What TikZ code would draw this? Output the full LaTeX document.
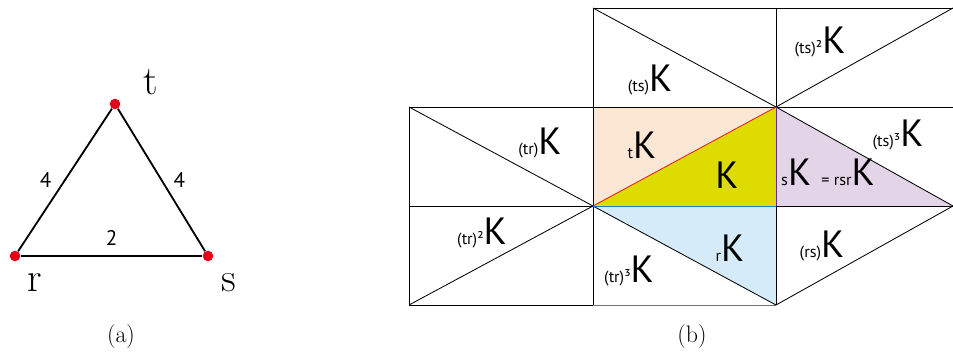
\documentclass[tikz,border=0pt]{standalone}
\usepackage{fontspec}
\newfontfamily\klabel{PT Sans}
\usetikzlibrary{positioning}
\definecolor{tcolor}{RGB}{252,230,212}
\definecolor{kcolor}{RGB}{221,219,0}
\definecolor{scolor}{RGB}{228,212,232}
\definecolor{rcolor}{RGB}{214,235,250}
\definecolor{dotcolor}{RGB}{226,0,26}
\definecolor{redline}{RGB}{230,30,30}
\definecolor{blueline}{RGB}{40,120,200}
\definecolor{purpleline}{RGB}{110,40,150}
\newcommand{\pre}[1]{{\fontsize{11.5}{11.5}\selectfont #1}}

\begin{document}
\begin{tikzpicture}[
    x=0.025cm, y=-0.025cm,
    vertex/.style={circle, fill=dotcolor, inner sep=0pt, minimum size=7.5pt},
    edge/.style={line width=1.3pt},
    weight/.style={font=\klabel\fontsize{15}{15}\selectfont, inner sep=1pt},
    gen/.style={font=\fontsize{29}{29}\selectfont, inner sep=0pt},
    caption/.style={font=\fontsize{17}{17}\selectfont},
    cell/.style={line width=0.6pt},
    coset/.style={font=\klabel\fontsize{27}{27}\selectfont, inner sep=0pt}
]
\useasboundingbox (0,0) rectangle (953,354);

% (a) Coxeter graph
\node[vertex] (t) at (115,104) {};
\node[vertex] (r) at (15,256) {};
\node[vertex] (s) at (208,256) {};
\draw[edge] (r) -- node[weight, midway, left=8pt] {4} (t);
\draw[edge] (t) -- node[weight, midway, right=7pt] {4} (s);
\draw[edge] (r) -- node[weight, midway, above=6pt] {2} (s);
\node[gen] (tlab) at (151,82) {t};
\node[gen] (rlab) at (35,283) {r};
\node[gen] (slab) at (229,283) {s};
\node[caption] (capa) at (121,337) {(a)};

% (b) tiling
\foreach \c/\x in {a/409,b/593,c/776,d/953}
  \foreach \r/\y in {0/8,1/107,2/206,3/305}
    \coordinate (\c\r) at (\x,\y);

\fill[tcolor] (b1) -- (c1) -- (b2) -- cycle;
\fill[kcolor] (b2) -- (c1) -- (c2) -- cycle;
\fill[scolor] (c1) -- (c2) -- (d2) -- cycle;
\fill[rcolor] (b2) -- (c2) -- (c3) -- cycle;

\draw[cell] (b0) -- (d0);
\draw[cell] (a1) -- (d1);
\draw[cell] (a2) -- (b2) (c2) -- (d2);
\draw[cell] (a3) -- (b3);
\draw[cell, black!55] (b3) -- (c3);
\draw[cell] (a1) -- (a3) (b0) -- (b3) (c0) -- (c1) (c2) -- (c3);
\draw[cell] (b0) -- (c1) -- (d0);
\draw[cell] (a1) -- (b2) -- (a3);
\draw[cell] (c1) -- (d2) -- (c3) -- (b2);
\draw[cell, redline] (b2) -- (c1);
\draw[cell, blueline] (b2) -- (c2);
\draw[cell, purpleline] (c1) -- (c2);

\node[coset] (ts) at (650,80) {\pre{(ts)}K};
\node[coset] (ts2) at (820,42) {\pre{(ts)²}K};
\node[coset] (tr) at (540,143) {\pre{(tr)}K};
\node[coset] (tK) at (642,145) {\pre{t}K};
\node[coset] (K) at (727,175) {K};
\node[coset] (ts3) at (898,135) {\pre{(ts)³}K};
\node[coset] (sK) at (828,172) {\pre{s}K \pre{= rsr}K};
\node[coset] (tr2) at (482,233) {\pre{(tr)²}K};
\node[coset] (rK) at (730,248) {\pre{r}K};
\node[coset] (tr3) at (629,271) {\pre{(tr)³}K};
\node[coset] (rs) at (822,246) {\pre{(rs)}K};
\node[caption] (capb) at (692,337) {(b)};
\end{tikzpicture}
\end{document}
